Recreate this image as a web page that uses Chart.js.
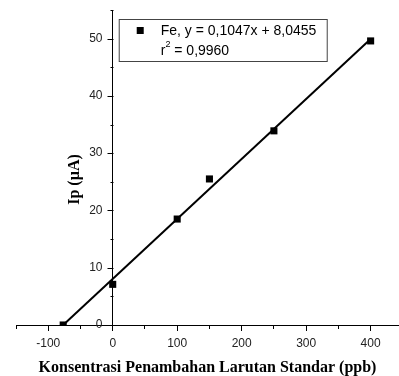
<!DOCTYPE html>
<html>
<head>
<meta charset="utf-8">
<script src="https://cdn.jsdelivr.net/npm/chart.js@4/dist/chart.umd.min.js"></script>
<style>
  body { margin: 0; background: #fff; }
  #wrap { width: 399px; height: 376px; position: relative; }
</style>
</head>
<body>
<div id="wrap"><canvas id="chart"></canvas></div>
<script>
// standard addition data for Fe
var konsentrasi = [-76.8, 0, 100, 150, 250, 400];
var arus = [0, 7.1, 18.5, 25.5, 33.9, 49.6];

// linear fit reported in the legend
var slope = 0.1047;
var intercept = 8.0455;
var rSquared = '0,9960';
var fitRange = [-76.84, 400];

var xTitle = 'Konsentrasi Penambahan Larutan Standar (ppb)';
var yTitle = 'Ip (\u00b5A)';

var points = konsentrasi.map(function (x, i) { return { x: x, y: arus[i] }; });
var fitLine = fitRange.map(function (x) { return { x: x, y: slope * x + intercept }; });

function fmt(v) { return v.toFixed(4).replace('.', ','); }

// short ticks for the in-between steps
function minorDash(step) {
  return function (ctx) {
    return (ctx.tick && Math.round(ctx.tick.value) % step !== 0) ? [3, 20] : [];
  };
}

function noPadding(scale) {
  scale.paddingLeft = 0;
  scale.paddingRight = 0;
}

// y axis crosses at x = 0: ticks, labels and title drawn here from the y scale
var yAxisText = {
  id: 'yAxisText',
  afterDraw: function (chart) {
    var c = chart.ctx;
    var xs = chart.scales.x, ys = chart.scales.y;
    var x0 = Math.round(xs.getPixelForValue(0)) + 0.5;
    c.save();
    c.strokeStyle = '#000';
    c.lineWidth = 1;
    c.beginPath();
    ys.ticks.forEach(function (t) {
      var py = Math.round(ys.getPixelForValue(t.value)) + 0.5;
      var len = t.value % 10 === 0 ? 6 : 3;
      c.moveTo(x0, py);
      c.lineTo(x0 - len, py);
    });
    c.stroke();
    c.font = '12px "Liberation Sans", Arial, sans-serif';
    c.fillStyle = '#222';
    c.textAlign = 'right';
    c.textBaseline = 'middle';
    ys.ticks.forEach(function (t) {
      if (t.value % 10 === 0) c.fillText(String(t.value), x0 - 11, ys.getPixelForValue(t.value));
    });
    c.translate(x0 - 39, (ys.top + ys.bottom) / 2 + 12);
    c.rotate(-Math.PI / 2);
    c.font = 'bold 16px "Liberation Serif", "Times New Roman", serif';
    c.fillStyle = '#000';
    c.textAlign = 'center';
    c.fillText(yTitle, 0, 0);
    c.restore();
  }
};

var fitLegend = {
  id: 'fitLegend',
  afterDraw: function (chart) {
    var c = chart.ctx;
    var x0 = chart.scales.x.getPixelForValue(0) + 6;
    var y0 = chart.chartArea.top + 9;
    c.save();
    c.strokeStyle = '#444';
    c.lineWidth = 1;
    c.strokeRect(x0 + 0.5, y0 + 0.5, 208, 42);
    c.fillStyle = '#000';
    c.fillRect(x0 + 18, y0 + 8, 7, 7);
    c.font = '14px "Liberation Sans", Arial, sans-serif';
    c.textBaseline = 'middle';
    c.fillText('Fe, y = ' + fmt(slope) + 'x + ' + fmt(intercept), x0 + 42, y0 + 12);
    c.fillText('r', x0 + 42, y0 + 32);
    var rw = c.measureText('r').width;
    c.font = '9px "Liberation Sans", Arial, sans-serif';
    c.fillText('2', x0 + 42 + rw, y0 + 26);
    var sw = c.measureText('2').width;
    c.font = '14px "Liberation Sans", Arial, sans-serif';
    c.fillText(' = ' + rSquared, x0 + 42 + rw + sw, y0 + 32);
    c.restore();
  }
};

new Chart(document.getElementById('chart').getContext('2d'), {
  type: 'scatter',
  data: {
    datasets: [{
      label: 'Fe',
      data: points,
      pointStyle: 'rect',
      pointRadius: 5,
      pointBorderWidth: 0,
      backgroundColor: '#000',
      borderColor: '#000',
      order: 0
    }, {
      type: 'line',
      label: 'fit',
      data: fitLine,
      borderColor: '#000',
      borderWidth: 2,
      pointRadius: 0,
      fill: false,
      order: 1
    }]
  },
  options: {
    responsive: true,
    maintainAspectRatio: false,
    animation: false,
    // autoPadding would keep a point-radius gap on the right
    layout: { autoPadding: false, padding: { left: 16, right: 0, top: 10, bottom: 0 } },
    plugins: { legend: { display: false }, tooltip: { enabled: false } },
    scales: {
      x: {
        type: 'linear',
        min: -150,
        max: 444,
        afterFit: noPadding,
        grid: {
          drawOnChartArea: false,
          tickLength: 6,
          tickColor: '#000',
          tickWidth: 1,
          tickBorderDash: minorDash(100)
        },
        border: { display: true, color: '#000', width: 1 },
        ticks: {
          stepSize: 50,
          includeBounds: false,
          autoSkip: false,
          maxRotation: 0,
          padding: 5,
          color: '#222',
          font: { family: '"Liberation Sans", Arial, sans-serif', size: 12 },
          callback: function (v) { return v % 100 === 0 ? String(v) : ''; }
        },
        title: {
          display: true,
          text: xTitle,
          color: '#000',
          font: { family: '"Liberation Serif", "Times New Roman", serif', size: 16, weight: 'bold', lineHeight: 1.0 },
          padding: { top: 4.6, bottom: 0 }
        }
      },
      y: {
        type: 'linear',
        position: { x: 0 },
        min: 0,
        max: 55,
        afterFit: noPadding,
        grid: { drawOnChartArea: false, drawTicks: false },
        border: { display: true, color: '#000', width: 1 },
        ticks: { display: false, stepSize: 5, includeBounds: false, autoSkip: false }
      }
    }
  },
  plugins: [yAxisText, fitLegend]
});
</script>
</body>
</html>
